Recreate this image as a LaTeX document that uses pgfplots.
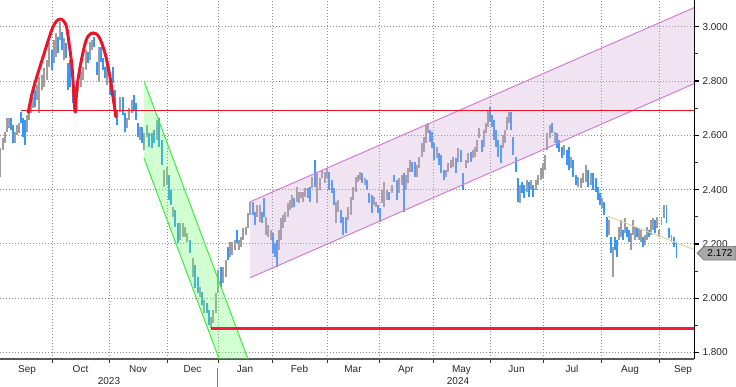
\documentclass[border=0pt]{standalone}
\usepackage{pgfplots}
\pgfplotsset{compat=1.18}
\usepackage{pgfplotstable}
\usepackage{fontspec}
\setmainfont{Liberation Sans}
\definecolor{barblue}{RGB}{51,153,255}
\definecolor{bargray}{RGB}{160,156,160}
\definecolor{pinkfill}{RGB}{205,165,215}
\definecolor{pinkline}{RGB}{210,125,210}
\definecolor{greenfill}{RGB}{105,255,105}
\definecolor{greenline}{RGB}{60,235,60}
\definecolor{redline}{RGB}{238,20,40}
\definecolor{redthick}{RGB}{245,25,60}
\definecolor{khaki}{RGB}{215,215,170}
\definecolor{gridgray}{RGB}{140,140,140}
\definecolor{taggray}{RGB}{168,168,168}

\pgfplotstableread{
x lo hi
0 2.447 2.553
3 2.546 2.590
5 2.572 2.612
7 2.612 2.664
9 2.627 2.664
15 2.572 2.612
17 2.601 2.638
19 2.608 2.645
27 2.612 2.675
29 2.656 2.701
31 2.682 2.730
33 2.701 2.741
37 2.730 2.785
39 2.682 2.815
42 2.767 2.822
44 2.778 2.848
47 2.804 2.877
49 2.852 2.940
54 2.866 2.951
56 2.888 2.977
60 2.951 3.017
64 2.877 2.958
78 2.760 2.815
81 2.778 2.833
83 2.804 2.852
86 2.841 2.914
90 2.877 2.944
92 2.914 2.951
99 2.796 2.925
107 2.785 2.859
120 2.686 2.741
127 2.627 2.664
129 2.656 2.701
132 2.682 2.730
140 2.583 2.631
144 2.546 2.608
147 2.594 2.638
157 2.583 2.656
164 2.410 2.472
167 2.417 2.483
173 2.299 2.336
180 2.214 2.277
183 2.225 2.277
185 2.225 2.262
187 2.207 2.240
193 2.078 2.148
200 2.004 2.041
204 1.946 1.993
211 1.891 1.931
213 1.909 1.957
216 1.946 2.019
218 2.019 2.104
223 2.056 2.115
226 2.078 2.141
230 2.152 2.207
232 2.159 2.207
235 2.178 2.214
239 2.178 2.214
241 2.189 2.225
243 2.214 2.259
246 2.233 2.262
248 2.259 2.314
250 2.307 2.354
257 2.299 2.343
260 2.281 2.343
266 2.233 2.299
268 2.225 2.270
271 2.214 2.251
279 2.178 2.251
281 2.214 2.295
283 2.259 2.307
285 2.281 2.318
288 2.299 2.351
290 2.325 2.362
292 2.332 2.380
297 2.354 2.410
299 2.351 2.391
301 2.369 2.391
303 2.354 2.391
305 2.373 2.406
312 2.406 2.446
317 2.351 2.461
320 2.399 2.443
322 2.443 2.472
325 2.424 2.465
327 2.443 2.479
336 2.277 2.354
338 2.318 2.362
348 2.288 2.336
351 2.307 2.373
353 2.362 2.410
356 2.391 2.446
358 2.428 2.454
360 2.435 2.465
365 2.417 2.443
374 2.343 2.373
376 2.336 2.354
382 2.351 2.399
384 2.336 2.428
387 2.362 2.399
392 2.387 2.417
399 2.387 2.443
402 2.417 2.454
406 2.399 2.454
408 2.424 2.479
410 2.465 2.509
417 2.446 2.491
419 2.479 2.520
422 2.520 2.572
424 2.539 2.594
426 2.572 2.638
428 2.608 2.645
437 2.517 2.557
446 2.446 2.472
448 2.465 2.498
451 2.479 2.509
453 2.483 2.520
458 2.502 2.553
466 2.479 2.509
468 2.498 2.535
473 2.517 2.546
475 2.520 2.557
477 2.539 2.583
479 2.590 2.627
484 2.557 2.620
486 2.608 2.645
488 2.631 2.693
503 2.553 2.601
505 2.572 2.620
507 2.620 2.668
509 2.645 2.686
520 2.351 2.417
527 2.391 2.435
531 2.399 2.435
536 2.399 2.435
538 2.417 2.454
541 2.435 2.479
543 2.443 2.498
545 2.472 2.528
547 2.546 2.608
550 2.590 2.638
555 2.572 2.612
564 2.528 2.564
571 2.479 2.520
578 2.410 2.446
581 2.406 2.443
583 2.424 2.461
586 2.428 2.491
591 2.417 2.461
602 2.332 2.369
609 2.233 2.288
613 2.078 2.189
619 2.214 2.262
621 2.225 2.288
625 2.240 2.295
631 2.178 2.240
633 2.233 2.288
635 2.214 2.262
639 2.214 2.259
641 2.207 2.251
645 2.196 2.233
647 2.214 2.262
651 2.233 2.288
653 2.251 2.295
657 2.259 2.299
659 2.225 2.251
661.5 2.270 2.299
664 2.295 2.343
671.5 2.207 2.233
}\graybars

\pgfplotstableread{
x lo hi
11 2.620 2.664
13 2.572 2.638
21 2.645 2.686
23 2.594 2.664
25 2.564 2.656
35 2.704 2.767
52 2.841 2.914
58 2.903 2.962
62 2.914 2.980
66 2.885 2.940
68 2.767 2.866
70 2.778 2.877
73 2.719 2.793
75 2.686 2.778
88 2.866 2.907
94 2.925 2.962
97 2.822 2.870
101 2.870 2.925
103 2.841 2.885
105 2.811 2.852
110 2.748 2.822
113 2.793 2.852
115 2.668 2.767
117 2.638 2.693
123 2.675 2.741
125 2.612 2.682
134 2.693 2.748
136 2.656 2.719
138 2.594 2.645
142 2.572 2.631
149 2.557 2.608
152 2.553 2.608
154 2.572 2.620
159 2.557 2.664
162 2.491 2.583
169 2.362 2.454
171 2.343 2.399
175 2.262 2.325
178 2.204 2.277
190 2.167 2.214
195 2.038 2.122
198 2.019 2.078
202 1.975 2.023
207 1.946 1.982
209 1.901 1.957
221 2.041 2.115
228 2.141 2.189
237 2.204 2.251
253 2.307 2.354
255 2.270 2.318
262 2.277 2.318
264 2.299 2.369
273 2.167 2.240
275 2.152 2.204
277 2.115 2.214
294 2.336 2.369
308 2.369 2.406
310 2.354 2.410
315 2.410 2.509
329 2.399 2.465
332 2.387 2.435
334 2.343 2.406
341 2.277 2.325
343 2.233 2.299
346 2.240 2.299
362 2.424 2.461
367 2.399 2.435
369 2.351 2.387
372 2.314 2.380
378 2.314 2.343
380 2.281 2.332
389 2.362 2.391
394 2.428 2.454
397 2.362 2.435
404 2.318 2.461
412 2.465 2.502
415 2.446 2.502
430 2.575 2.620
432 2.553 2.612
434 2.509 2.572
439 2.491 2.535
441 2.461 2.528
444 2.435 2.472
456 2.461 2.517
461 2.502 2.546
463 2.399 2.461
471 2.502 2.539
482 2.539 2.583
490 2.649 2.704
492 2.631 2.675
494 2.583 2.656
496 2.557 2.620
498 2.520 2.583
501 2.498 2.564
511 2.620 2.686
513 2.528 2.594
516 2.465 2.520
518 2.354 2.443
522 2.387 2.428
524 2.369 2.417
529 2.373 2.428
533 2.373 2.417
552 2.608 2.645
557 2.553 2.608
559 2.539 2.583
562 2.517 2.557
567 2.491 2.546
569 2.472 2.557
573 2.447 2.509
576 2.417 2.454
588 2.410 2.472
593 2.399 2.461
596 2.391 2.443
598 2.362 2.410
600 2.343 2.387
604 2.307 2.354
607 2.225 2.299
611 2.167 2.225
615 2.178 2.225
617 2.152 2.214
623 2.214 2.251
627 2.225 2.262
629 2.207 2.251
637 2.225 2.262
643 2.189 2.225
649 2.225 2.251
655 2.240 2.288
666.5 2.277 2.343
669 2.222 2.259
674 2.189 2.225
676.5 2.148 2.207
}\bluebars

\begin{document}
\begin{tikzpicture}[x=1pt,y=1pt]
\useasboundingbox (0,-28) rectangle (736,359);
\begin{axis}[
  at={(0,0)}, anchor=south west,
  scale only axis, width=694pt, height=359pt,
  xmin=0, xmax=694, ymin=1.7761, ymax=3.0983,
  axis x line*=bottom, axis y line*=right,
  x axis line style={draw=black!65, line width=1.6pt},
  y axis line style={draw=black, line width=0.8pt},
  tick align=outside,
  major tick length=5pt, minor tick length=4pt,
  xtick={27,80.5,138,192.5,245,299.5,353,406,461.5,516.5,572,630,683},
  xticklabels={Sep,Oct,Nov,Dec,Jan,Feb,Mar,Apr,May,Jun,Jul,Aug,Sep},
  xticklabel style={yshift=2pt},
  minor xtick={52,109,167,218,272,327,379,433,490,543,601,659},
  major x tick style={draw=none},
  minor x tick style={draw=black!80, line width=0.9pt},
  ytick={1.8,2,2.2,2.4,2.6,2.8,3},
  minor ytick={1.9,2.1,2.3,2.5,2.7,2.9},
  major y tick style={draw=black, line width=1.4pt},
  minor y tick style={draw=black!80, line width=0.8pt},
  xminorgrids=true, ymajorgrids=true,
  grid style={gridgray, dash pattern=on 1.1pt off 1.9pt, line width=0.9pt},
  minor grid style={gridgray, dash pattern=on 1.1pt off 1.9pt, line width=0.9pt},
  /pgf/number format/fixed, /pgf/number format/fixed zerofill,
  /pgf/number format/precision=3, /pgf/number format/assume math mode=true,
  ticklabel style={font=\fontsize{10}{12}\selectfont, text=black!85},
]
% bars
\addplot[draw=none, no markers, error bars/.cd, y dir=plus, y explicit, error mark=none,
  error bar style={draw=bargray, line width=1.7pt}]
  table[x=x, y=lo, y error plus expr=\thisrow{hi}-\thisrow{lo}] {\graybars};
\addplot[draw=none, no markers, error bars/.cd, y dir=plus, y explicit, error mark=none,
  error bar style={draw=barblue, line width=1.7pt}]
  table[x=x, y=lo, y error plus expr=\thisrow{hi}-\thisrow{lo}] {\bluebars};
% channels
\addplot[fill=greenfill, fill opacity=0.3, draw=none] coordinates {(144,2.800) (249.6,1.76) (220.75,1.76) (144,2.516)} -- cycle;
\addplot[greenline, line width=1pt] coordinates {(144,2.800) (249.6,1.76)};
\addplot[greenline, line width=1pt] coordinates {(144,2.516) (220.75,1.76)};
\addplot[fill=pinkfill, fill opacity=0.3, draw=none] coordinates {(250,2.355) (694,3.070) (694,2.790) (250,2.075)} -- cycle;
\addplot[pinkline, line width=1pt] coordinates {(250,2.355) (694,3.070)};
\addplot[pinkline, line width=1pt] coordinates {(250,2.075) (694,2.790)};
% lines
\addplot[khaki, line width=1pt] coordinates {(608,2.302) (694,2.179)};
\addplot[redline, line width=0.8pt] coordinates {(21,2.690) (694,2.690)};
\addplot[redthick, line width=3pt] coordinates {(211,1.890) (694,1.890)};
% double top arcs
\addplot[redline, line width=3pt, smooth, tension=0.55, line cap=round] coordinates {
 (28.3,2.684) (33,2.767) (43,2.888) (53,2.999) (60,3.028) (66,3.006) (69,2.940) (72,2.852) (74,2.741) (75,2.686)};
\addplot[redline, line width=3pt, smooth, tension=0.55, line cap=round] coordinates {
 (75.7,2.686) (77,2.778) (82,2.888) (87,2.958) (93,2.977) (99,2.962) (105,2.903) (110,2.815) (113,2.741) (116,2.668)};
\end{axis}
% year row
\node[font=\fontsize{10}{12}\selectfont, text=black!85] at (109,-22.5) {2023};
\node[font=\fontsize{10}{12}\selectfont, text=black!85] at (458,-22.5) {2024};
\draw[gray, line width=0.8pt] (217,-9) -- (217,-28);
% last value tag
\draw[fill=taggray, draw=black!60, line width=0.6pt] (697,105.7) -- (704,112.6) -- (736,112.6) -- (736,98.8) -- (704,98.8) -- cycle;
\node[font=\fontsize{10}{12}\selectfont, text=black] at (720,105.7) {2.172};
\end{tikzpicture}
\end{document}
